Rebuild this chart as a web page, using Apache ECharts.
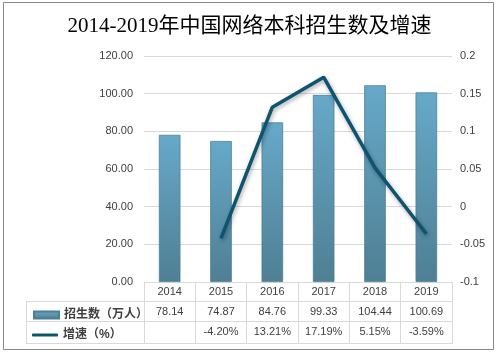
<!DOCTYPE html>
<html>
<head>
<meta charset="utf-8">
<script src="https://cdn.jsdelivr.net/npm/echarts@6/dist/echarts.min.js"></script>
<style>html,body{margin:0;padding:0;background:#fff}#c{width:499px;height:355px}</style>
</head>
<body>
<div id="c"></div>
<script>
const categories = ['2014', '2015', '2016', '2017', '2018', '2019'];
const enrollment = [78.14, 74.87, 84.76, 99.33, 104.44, 100.69];
const growthPct = [null, -4.20, 13.21, 17.19, 5.15, -3.59];
const barName = '招生数（万人）';
const lineName = '增速（%）';
const titleText = '2014-2019年中国网络本科招生数及增速';

const chart = echarts.init(document.getElementById('c'), null, {renderer: 'canvas'});
const GL = 144, GR = 452, GT = 56, GB = 282;
const gridCol = '#d9d9d9';
const textCol = '#404040';
const font = '"Liberation Sans", "Noto Sans CJK SC", sans-serif';

const barGrad = new echarts.graphic.LinearGradient(0, 0, 0, 1, [
  {offset: 0, color: '#67a9c9'},
  {offset: 1, color: '#4f7f93'}
]);

chart.setOption({
  animation: false,
  title: {
    text: titleText, left: 'center', top: 11,
    textStyle: {fontFamily: '"Liberation Serif", "Noto Sans CJK SC", serif', fontSize: 21, fontWeight: 'normal', color: '#000'}
  },
  legend: [
    {data: [{name: barName, icon: 'rect'}], left: 28, top: 304, itemWidth: 25, itemHeight: 7, itemGap: 2,
      textStyle: {fontFamily: font, fontSize: 12, fontWeight: 'bold', color: textCol}},
    {data: [{name: lineName, icon: 'roundRect'}], left: 27, top: 324, itemWidth: 26, itemHeight: 3, itemGap: 2,
      itemStyle: {color: '#0e5470'},
      textStyle: {fontFamily: font, fontSize: 12, fontWeight: 'bold', color: textCol}}
  ],
  grid: {left: GL, right: 499 - GR, top: GT, bottom: 355 - GB, containLabel: false},
  xAxis: {
    type: 'category', data: categories, boundaryGap: true,
    axisLine: {show: true, lineStyle: {color: gridCol}},
    axisTick: {show: true, length: 62, alignWithLabel: false, lineStyle: {color: gridCol}},
    axisLabel: {
      margin: 0, interval: 0, lineHeight: 20, fontFamily: font, fontSize: 11, color: textCol,
      formatter: function (v, i) {
        const g = growthPct[i];
        return v + '\n' + enrollment[i].toFixed(2) + '\n' + (g == null ? ' ' : g.toFixed(2) + '%');
      }
    }
  },
  yAxis: [
    {type: 'value', min: 0, max: 120, interval: 20,
      axisLine: {show: false}, axisTick: {show: false},
      splitLine: {lineStyle: {color: gridCol}},
      axisLabel: {margin: 11, fontFamily: font, fontSize: 11, color: textCol, formatter: v => v.toFixed(2)}},
    {type: 'value', min: -0.1, max: 0.2, interval: 0.05,
      axisLine: {show: false}, axisTick: {show: false}, splitLine: {show: false},
      axisLabel: {margin: 8, fontFamily: font, fontSize: 11, color: textCol, formatter: v => String(parseFloat(v.toFixed(2)))}}
  ],
  series: [
    {name: barName, type: 'bar', data: enrollment, yAxisIndex: 0, barWidth: '42%',
      itemStyle: {color: barGrad, borderColor: '#4d7f95', borderWidth: 0.8}},
    {name: lineName, type: 'line', yAxisIndex: 1, symbol: 'none', showSymbol: false,
      data: growthPct.map(v => v == null ? null : v / 100),
      itemStyle: {color: '#0e5470'},
      lineStyle: {color: '#0e5470', width: 3.5, shadowColor: 'rgba(0,0,0,0.35)', shadowBlur: 4, shadowOffsetY: 2, shadowOffsetX: 1}}
  ],
  graphic: [
    {type: 'rect', shape: {x: 3.5, y: 2.5, width: 490, height: 347}, style: {fill: null, stroke: '#888', lineWidth: 1}, silent: true},
    {type: 'line', shape: {x1: 26, y1: 301.5, x2: GR, y2: 301.5}, style: {stroke: gridCol, lineWidth: 1}},
    {type: 'line', shape: {x1: 26, y1: 321.5, x2: GR, y2: 321.5}, style: {stroke: gridCol, lineWidth: 1}},
    {type: 'line', shape: {x1: 26, y1: 343.5, x2: GR, y2: 343.5}, style: {stroke: gridCol, lineWidth: 1}},
    {type: 'line', shape: {x1: 26.5, y1: 301, x2: 26.5, y2: 344}, style: {stroke: gridCol, lineWidth: 1}}
  ]
});
</script>
</body>
</html>
